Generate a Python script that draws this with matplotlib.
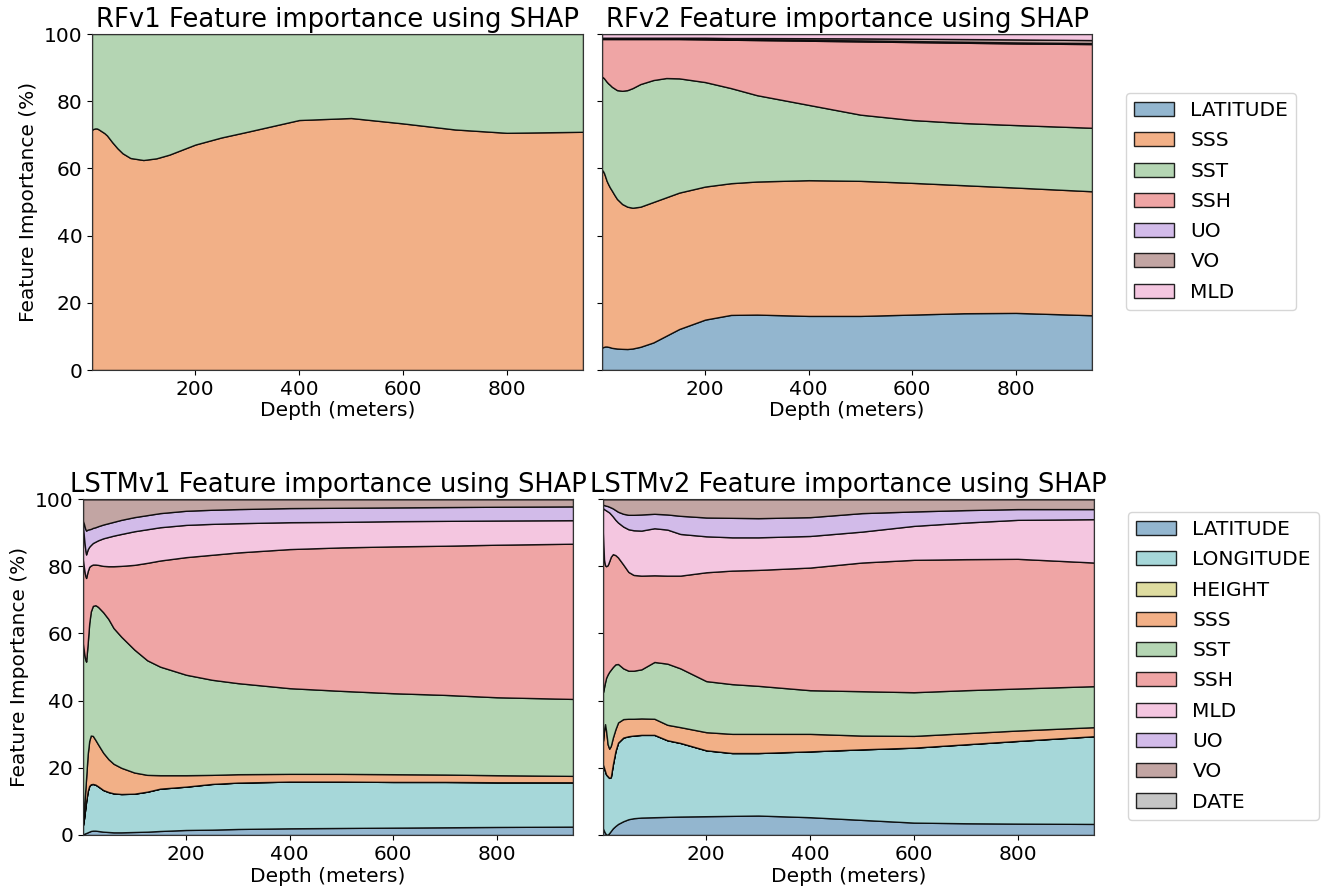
import matplotlib.pyplot as plt
import numpy as np

# depth levels (m)
depth = [1, 3, 5, 7, 10, 13, 16, 20, 25, 30, 40, 50, 60, 75, 100, 125, 150,
         200, 250, 300, 400, 500, 600, 700, 800, 947]

# --- RFv1 SHAP importance (%) ---
rf1_sss = [71.5, 71.7, 71.8, 71.9, 71.9, 71.7, 71.4, 71.0, 70.5, 69.8, 67.8, 66.0, 64.5,
           63.1, 62.5, 63.0, 64.1, 67.1, 69.2, 70.9, 74.4, 75.0, 73.4, 71.6, 70.6, 70.9]
rf1_sst = [100 - v for v in rf1_sss]

# --- RFv2 SHAP importance (%) ---
rf2_lat = [6.7, 6.8, 6.9, 7.0, 7.0, 6.9, 6.8, 6.6, 6.5, 6.4, 6.3, 6.25, 6.4,
           6.9, 8.2, 10.2, 12.2, 15.0, 16.4, 16.5, 16.1, 16.1, 16.5, 16.9, 17.0, 16.3]
rf2_sss = [52.9, 52.4, 51.7, 50.7, 49.3, 48.4, 47.6, 46.8, 45.6, 44.5, 43.1, 42.35, 41.9,
           41.7, 41.8, 41.2, 40.6, 39.6, 39.2, 39.6, 40.4, 40.2, 39.2, 38.1, 37.3, 36.9]
rf2_sst = [27.7, 27.9, 28.2, 28.7, 29.5, 30.0, 30.5, 30.9, 31.7, 32.4, 33.7, 34.7, 35.6,
           36.5, 36.3, 35.5, 34.0, 31.1, 28.3, 25.7, 22.4, 19.7, 18.7, 18.5, 18.6, 18.9]
rf2_ssh = [11.2, 11.4, 11.7, 12.1, 12.7, 13.2, 13.6, 14.2, 14.7, 15.2, 15.4, 15.2, 14.6,
           13.4, 12.2, 11.6, 11.7, 12.7, 14.4, 16.4, 19.1, 21.8, 23.2, 23.9, 24.3, 24.9]
rf2_uo = [0.2] * 20 + [0.25, 0.3, 0.3, 0.3, 0.3, 0.3]
rf2_vo = [0.2] * 17 + [0.3, 0.3, 0.4, 0.5, 0.6, 0.7, 0.8, 0.9, 0.9]
rf2_mld = [1.1] * 18 + [1.2, 1.2, 1.25, 1.3, 1.4, 1.5, 1.6, 1.8]

# --- LSTMv1 SHAP importance (%) ---
l1_lat = [0.2, 0.3, 0.5, 0.6, 0.8, 1.0, 1.2, 1.3, 1.3, 1.2, 1.0, 0.9, 0.8,
          0.8, 0.9, 1.0, 1.2, 1.5, 1.6, 1.8, 2.0, 2.1, 2.2, 2.3, 2.4, 2.5]
l1_lon = [2.8, 4.7, 7.0, 9.4, 12.2, 13.6, 13.9, 13.9, 13.7, 13.3, 12.4, 11.9, 11.6,
          11.4, 11.4, 11.9, 12.6, 12.9, 13.6, 13.8, 13.9, 13.8, 13.6, 13.5, 13.3, 13.2]
l1_sss = [0.5, 3.0, 5.0, 7.0, 11.0, 13.4, 14.5, 14.3, 13.3, 12.5, 11.1, 9.8, 8.8,
          7.8, 6.3, 5.0, 4.0, 3.4, 2.7, 2.5, 2.3, 2.3, 2.3, 2.2, 2.1, 1.9]
l1_sst = [53.5, 46.5, 40.0, 34.6, 33.0, 35.0, 36.9, 38.7, 40.1, 40.9, 41.8, 41.7, 40.4,
          39.0, 36.6, 34.1, 32.3, 29.9, 28.3, 27.1, 25.5, 24.7, 24.1, 23.7, 23.2, 22.9]
l1_ssh = [25.0, 25.0, 25.0, 24.9, 21.5, 16.8, 13.7, 12.3, 12.1, 12.5, 13.8, 15.7, 18.4,
          21.1, 25.2, 29.0, 31.6, 35.0, 37.2, 38.9, 41.4, 42.7, 43.7, 44.4, 45.4, 46.2]
l1_mld = [10.0, 9.0, 8.0, 7.0, 6.5, 6.0, 6.1, 6.4, 6.8, 7.3, 8.2, 8.7, 9.1,
          9.5, 10.0, 10.0, 9.9, 9.6, 9.2, 8.7, 8.0, 7.6, 7.5, 7.4, 7.2, 7.0]
l1_uo = [1.5, 4.0, 5.8, 7.1, 5.9, 5.2, 4.8, 4.5, 4.3, 4.2, 4.1, 4.1, 4.1,
         4.2, 4.2, 4.2, 4.2, 4.2, 4.2, 4.2, 4.2, 4.2, 4.1, 4.1, 4.1, 4.1]
l1_vo = [6.5, 7.5, 8.7, 9.4, 9.1, 9.0, 8.9, 8.6, 8.4, 8.1, 7.6, 7.2, 6.8,
         6.2, 5.4, 4.8, 4.2, 3.5, 3.2, 3.0, 2.7, 2.6, 2.5, 2.4, 2.3, 2.2]

# --- LSTMv2 SHAP importance (%) ---
l2_lat = [2.0, 1.2, 0.6, 0.2, 0.1, 0.6, 1.2, 2.0, 2.7, 3.3, 4.1, 4.7, 5.0,
          5.2, 5.3, 5.4, 5.5, 5.6, 5.7, 5.8, 5.3, 4.5, 3.7, 3.5, 3.4, 3.3]
l2_lon = [19.0, 18.8, 18.4, 17.8, 17.4, 16.4, 16.0, 19.0, 22.3, 24.2, 24.9, 24.7, 24.6,
          24.6, 24.5, 22.8, 21.9, 19.6, 18.7, 18.6, 19.6, 21.0, 22.3, 23.5, 24.6, 26.1]
l2_sss = [7.0, 11.0, 14.0, 13.0, 9.5, 8.7, 9.3, 8.0, 6.5, 6.0, 5.5, 5.2, 5.0,
          4.9, 4.8, 4.6, 4.7, 5.4, 5.7, 5.7, 5.2, 4.1, 3.5, 3.3, 3.1, 2.7]
l2_sst = [14.5, 13.0, 12.5, 15.8, 20.8, 22.9, 22.7, 21.0, 19.3, 17.4, 15.1, 14.3, 14.3,
          14.6, 16.9, 18.2, 17.5, 15.2, 14.8, 14.3, 13.0, 13.2, 13.0, 12.8, 12.5, 12.2]
l2_ssh = [47.5, 38.0, 34.8, 33.2, 32.5, 32.9, 33.6, 33.6, 32.5, 31.7, 30.9, 29.4, 28.5,
          27.9, 25.8, 26.2, 27.6, 32.4, 33.8, 34.5, 36.5, 38.3, 39.4, 39.0, 38.6, 36.8]
l2_mld = [7.3, 15.0, 16.5, 16.6, 16.0, 14.5, 12.7, 11.2, 10.5, 10.4, 11.3, 12.7, 13.3,
          13.4, 14.0, 13.7, 12.4, 10.7, 9.9, 9.7, 9.4, 9.2, 10.1, 10.9, 11.6, 12.9]
l2_uo = [1.0, 1.2, 1.3, 1.4, 1.6, 1.7, 2.0, 2.4, 2.9, 3.2, 3.8, 4.3, 4.6,
         4.8, 4.3, 4.5, 5.4, 5.6, 5.8, 5.7, 5.6, 5.5, 4.3, 3.7, 3.2, 3.0]
l2_vo = [1.7, 1.8, 1.9, 2.0, 2.1, 2.3, 2.5, 2.8, 3.3, 3.8, 4.4, 4.7, 4.7,
         4.6, 4.4, 4.6, 5.0, 5.5, 5.6, 5.7, 5.4, 4.2, 3.7, 3.3, 3.0, 3.0]

zeros = [0.0] * len(depth)

# one colour per feature, same in every panel
feature_colors = {
    "LATITUDE": "#93b6cf",
    "LONGITUDE": "#a6d7d9",
    "HEIGHT": "#dedca0",
    "SSS": "#f2b087",
    "SST": "#b4d5b3",
    "SSH": "#efa5a5",
    "MLD": "#f4c6e0",
    "UO": "#d2bbe9",
    "VO": "#c2a5a3",
    "DATE": "#c5c5c5",
}

panels = [
    ("RFv1", ["SSS", "SST"], [rf1_sss, rf1_sst]),
    ("RFv2", ["LATITUDE", "SSS", "SST", "SSH", "UO", "VO", "MLD"],
     [rf2_lat, rf2_sss, rf2_sst, rf2_ssh, rf2_uo, rf2_vo, rf2_mld]),
    ("LSTMv1", ["LATITUDE", "LONGITUDE", "HEIGHT", "SSS", "SST", "SSH", "MLD", "UO", "VO", "DATE"],
     [l1_lat, l1_lon, zeros, l1_sss, l1_sst, l1_ssh, l1_mld, l1_uo, l1_vo, zeros]),
    ("LSTMv2", ["LATITUDE", "LONGITUDE", "HEIGHT", "SSS", "SST", "SSH", "MLD", "UO", "VO", "DATE"],
     [l2_lat, l2_lon, zeros, l2_sss, l2_sst, l2_ssh, l2_mld, l2_uo, l2_vo, zeros]),
]

W, H = 1322, 889
fig = plt.figure(figsize=(W / 100, H / 100), dpi=100)

# axes boxes in pixels: left, top, right, bottom
boxes = [(92, 34, 583, 370), (602, 34, 1092, 370),
         (83, 499, 573, 835), (603, 499, 1094, 835)]

axes = []
for (l, t, r, b) in boxes:
    axes.append(fig.add_axes([l / W, 1 - b / H, (r - l) / W, (b - t) / H]))

for i, (ax, (name, feats, vals)) in enumerate(zip(axes, panels)):
    ax.stackplot(depth, *[np.array(v) for v in vals], labels=feats,
                 colors=[feature_colors[f] for f in feats],
                 edgecolor=(0, 0, 0, 0.85), linewidth=1)
    ax.set_xlim(depth[0], depth[-1])
    ax.set_ylim(0, 100)
    ax.set_xticks([200, 400, 600, 800])
    ax.set_yticks([0, 20, 40, 60, 80, 100])
    ax.tick_params(labelsize=14.5)
    for s in ax.spines.values():
        s.set_color("#333333")
    ax.set_title(f"{name} Feature importance using SHAP",
                 fontsize=18.6 if i < 2 else 18.5, pad=5)
    ax.set_xlabel("Depth (meters)", fontsize=14.5, labelpad=2)
    if i % 2 == 0:
        ax.set_ylabel("Feature Importance (%)", fontsize=14.5)
    else:
        ax.set_yticklabels([])

h, lab = axes[1].get_legend_handles_labels()
fig.legend(h, lab, loc="upper left", bbox_to_anchor=(1126 / W, 1 - 93 / H),
           fontsize=14.5, labelspacing=0.56, borderaxespad=0)
h, lab = axes[3].get_legend_handles_labels()
fig.legend(h, lab, loc="upper left", bbox_to_anchor=(1128 / W, 1 - 512 / H),
           fontsize=14.5, labelspacing=0.56, borderaxespad=0)

fig.savefig("out.png", dpi=100)
